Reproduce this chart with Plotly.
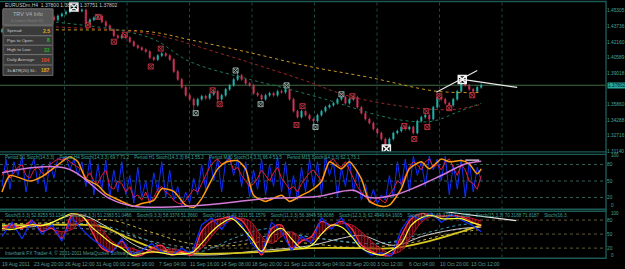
import plotly.graph_objects as go

W, H = 625, 269
FONT = "Liberation Sans"
TEAL = "#4aa39a"
SEP = "#1c5a55"

def yp(px):
    return 1 - px / H

def xp(px):
    return px / W

# ---------------- main panel data (EURUSD H4) ----------------
closes = [1.4339,1.4359,1.4379,1.4369,1.4399,1.4389,1.4419,1.4399,1.4439,1.4419,
          1.4459,1.4439,1.4469,1.4439,1.4479,1.4499,1.4519,1.4549,1.4559,1.4529,
          1.4539,1.4399,1.4439,1.4459,1.4479,1.4419,1.4379,1.4339,1.4279,1.4259,
          1.4279,1.4259,1.4219,1.4179,1.4159,1.4139,1.4119,1.4059,1.4039,1.4079,
          1.4099,1.4079,1.4039,1.3919,1.3839,1.3759,1.3679,1.3639,1.3579,1.3639,
          1.3669,1.3649,1.3689,1.3719,1.3639,1.3679,1.3739,1.3779,1.3839,1.3879,
          1.3839,1.3799,1.3779,1.3699,1.3679,1.3639,1.3679,1.3699,1.3679,1.3719,
          1.3709,1.3739,1.3639,1.3519,1.3459,1.3519,1.3479,1.3439,1.3419,1.3479,
          1.3519,1.3559,1.3579,1.3599,1.3639,1.3659,1.3599,1.3639,1.3659,1.3559,
          1.3499,1.3439,1.3399,1.3339,1.3299,1.3239,1.3179,1.3239,1.3299,1.3319,
          1.3359,1.3339,1.3359,1.3299,1.3419,1.3459,1.3479,1.3439,1.3559,1.3659,
          1.3639,1.3599,1.3579,1.3639,1.3719,1.3799,1.3779,1.3739,1.3719,1.3759,
          1.37802]
opens = [1.4319] + closes[:-1]
highs = [1.4354,1.4374,1.4394,1.4394,1.4414,1.4414,1.4434,1.4434,1.4454,1.4454,
         1.4474,1.4474,1.4484,1.4484,1.4494,1.4514,1.4534,1.4564,1.4589,1.4574,
         1.4554,1.4554,1.4454,1.4474,1.4494,1.4494,1.4434,1.4394,1.4354,1.4294,
         1.4294,1.4294,1.4274,1.4234,1.4194,1.4174,1.4154,1.4134,1.4074,1.4094,
         1.4114,1.4114,1.4094,1.4054,1.3934,1.3854,1.3774,1.3694,1.3654,1.3654,
         1.3684,1.3684,1.3704,1.3734,1.3734,1.3694,1.3754,1.3794,1.3854,1.3929,
         1.3894,1.3854,1.3814,1.3794,1.3714,1.3694,1.3694,1.3714,1.3714,1.3734,
         1.3734,1.3754,1.3754,1.3654,1.3534,1.3534,1.3534,1.3494,1.3454,1.3494,
         1.3534,1.3574,1.3594,1.3614,1.3654,1.3674,1.3674,1.3654,1.3674,1.3674,
         1.3574,1.3514,1.3454,1.3414,1.3354,1.3314,1.3254,1.3254,1.3314,1.3334,
         1.3374,1.3374,1.3374,1.3374,1.3434,1.3474,1.3494,1.3494,1.3574,1.3674,
         1.3674,1.3654,1.3614,1.3654,1.3734,1.3839,1.3814,1.3794,1.3754,1.3774,
         1.3800]
lows = [1.4304,1.4324,1.4344,1.4354,1.4354,1.4374,1.4374,1.4384,1.4384,1.4404,
        1.4404,1.4424,1.4424,1.4424,1.4424,1.4464,1.4484,1.4504,1.4534,1.4514,
        1.4514,1.4369,1.4384,1.4424,1.4444,1.4404,1.4364,1.4324,1.4264,1.4244,
        1.4244,1.4244,1.4204,1.4164,1.4144,1.4124,1.4104,1.4044,1.4024,1.4024,
        1.4064,1.4064,1.4024,1.3904,1.3824,1.3744,1.3664,1.3624,1.3519,1.3564,
        1.3624,1.3634,1.3634,1.3674,1.3624,1.3624,1.3664,1.3724,1.3764,1.3824,
        1.3824,1.3784,1.3764,1.3684,1.3664,1.3624,1.3624,1.3664,1.3664,1.3664,
        1.3694,1.3694,1.3624,1.3504,1.3444,1.3444,1.3464,1.3424,1.3359,1.3404,
        1.3464,1.3504,1.3544,1.3564,1.3584,1.3624,1.3584,1.3584,1.3624,1.3544,
        1.3484,1.3424,1.3384,1.3324,1.3284,1.3224,1.3139,1.3164,1.3224,1.3284,
        1.3304,1.3324,1.3324,1.3284,1.3284,1.3404,1.3444,1.3359,1.3424,1.3544,
        1.3624,1.3584,1.3564,1.3564,1.3624,1.3704,1.3764,1.3724,1.3704,1.3704,
        1.3744]
bars = list(range(len(closes)))
last_price = 1.37802

ma_slow_x = [0, 13, 37, 47, 62, 77, 92, 109, 120]
ma_slow_y = [1.4349, 1.4339, 1.4319, 1.4239, 1.4109, 1.3969, 1.3859, 1.3719, 1.3709]
ma_mid_x = [0, 13, 37, 54, 62, 75, 87, 100, 107, 114, 120]
ma_mid_y = [1.4399, 1.4369, 1.4299, 1.4109, 1.4009, 1.3839, 1.3669, 1.3569, 1.3539, 1.3539, 1.3589]
ma_fast_x = [0, 13, 37, 47, 62, 70, 81, 95, 102, 108, 114, 120]
ma_fast_y = [1.4459, 1.4419, 1.4259, 1.4019, 1.3839, 1.3759, 1.3639, 1.3469, 1.3419, 1.3419, 1.3509, 1.3599]

frac_red_x = [21.5, 24, 28, 30.75, 37.25, 39.75, 52.75, 54.5, 73.75, 75.25, 87.75, 100.75, 103.25, 106.25, 106.5, 109.5, 112, 117.75]
frac_red_y = [1.4389, 1.4469, 1.4219, 1.4289, 1.3969, 1.4149, 1.3729, 1.3589, 1.3379, 1.3569, 1.3669, 1.3369, 1.3239, 1.3519, 1.3359, 1.3669, 1.3549, 1.3679]
frac_grey_x = [48.5, 58.5, 64.75, 71.25, 78.5, 85]
frac_grey_y = [1.3499, 1.3929, 1.3589, 1.3779, 1.3359, 1.3689]
swing_x = [18, 96.25, 115.25]
swing_y = [1.4569, 1.3139, 1.3839]
trend1_x = [108.75, 119]
trend1_y = [1.3709, 1.3929]
trend2_x = [115.25, 129]
trend2_y = [1.3839, 1.3759]

price_ticks = [1.45305, 1.43736, 1.42160, 1.40589, 1.39018, 1.35860, 1.34288, 1.32716, 1.31140]

# ---------------- panel 2: multi-timeframe stochastic ----------------
st_blue = [40,90,35,85,60,95,30,70,90,45,80,
           30,85,55,92,88,95,70,90,60,85,
           40,90,25,80,35,88,20,70,30,85,
           25,60,10,75,20,50,8,65,30,85,
           20,70,15,40,5,30,10,55,25,80,
           35,95,50,90,30,85,95,60,90,40,
           85,20,70,35,90,25,80,40,95,30,
           85,20,60,15,75,30,90,40,85,25,
           95,60,85,20,75,40,90,30,70,15,
           45,10,35,8,25,15,60,20,85,40,
           90,30,95,60,85,40,95,70,90,50,
           95,25,80,35,90,20,85,30,75,50,65]
st_red = [60,70,55,65,75,80,60,55,70,75,65,
          60,80,85,90,88,92,85,80,75,70,
          55,65,50,45,60,70,40,35,50,45,
          30,40,20,25,15,30,10,20,35,40,
          30,25,15,10,8,15,25,35,30,45,
          60,75,85,90,80,85,90,70,75,60,
          50,40,45,55,70,60,50,65,75,55,
          45,35,40,30,45,55,65,70,60,50,
          70,85,90,80,75,85,70,55,40,30,
          20,15,10,20,15,10,25,35,50,45,
          60,75,85,80,70,85,90,75,80,70,
          85,90,75,60,80,70,50,45,35,60,75]
st_orange_x = [0,2,7,10,16,17,19,21,24,26,30,33,35,38,40,43,46,48,50,54,56,59,61,63,66,70,72,75,77,80,
               82,85,87,90,92,95,97,100,102,105,107,110,112,115,117,119,120]
st_orange_y = [30,60,50,58,90,94,85,54,42,27,13,4,9,15,36,31,6,2,18,72,84,87,72,24,13,24,13,24,31,49,
               85,72,85,54,13,4,6,36,72,85,72,90,85,87,81,63,72]
st_violet_x = [0, 16, 27, 33, 50, 66, 79, 85, 88, 92, 98, 104, 110, 116, 120]
st_violet_y = [65, 73, 18, 4, 6, 18, 22, 31, 33, 20, 24, 40, 60, 81, 86]
st_d1_x = [116, 119.5]
st_d1_y = [88, 88]

# ---------------- panel 3: stochastic fan ----------------
p3_x = [k * 2.5 for k in range(49)]
s3_main = [62,70,62,79,56,62,41,90,90,56, 20,13,35,5,5,20,26,5,13,5,
           56,77,83,87,79,47,5,62,69,20, 35,45,77,69,77,62,26,13,5,5,
           47,83,94,90,87,90,87,77,67]
s3_signal = [60,64,66,68,70,62,55,60,78,80, 60,35,22,20,12,10,15,18,14,10,
             20,45,68,80,84,75,45,30,45,55, 40,35,50,65,72,70,55,35,18,8,
             15,45,75,88,90,88,88,84,78]
s3_blue = [45,75,40,80,50,70,35,85,60,40, 25,10,40,8,15,30,12,5,20,8,
           70,85,60,90,70,30,8,75,55,15, 45,30,85,60,85,50,20,5,10,3,
           60,90,80,95,75,92,80,70,55]
s3_yellow = [62,60,65,70,68,75,85,94,88,65, 47,30,20,5,8,12,10,6,8,10,
             30,55,73,83,65,40,13,50,62,40, 20,26,50,69,65,45,20,10,5,15,
             30,69,85,90,83,83,83,75,69]
slow_white_x = [0,10,19,27,35,50,65,77,85,90,98,106,115,120]
slow_white_y = [65,68,92,62,20,5,15,25,41,47,26,47,62,65]
slow_cyan_x = [0,15,25,35,42,50,58,67,75,85,95,105,115,120]
slow_cyan_y = [70,72,69,41,20,13,41,62,47,35,30,50,70,72]
slow_grey_x = [0,20,30,40,50,60,70,80,90,100,110,120]
slow_grey_y = [58,62,50,30,20,35,50,40,30,35,55,65]
slow_ydot_x = [0,15,27,37,47,57,67,77,87,100,112,120]
slow_ydot_y = [72,75,80,55,30,25,35,30,22,28,50,60]
slow_ythick_x = [0,15,25,32,40,50,65,77,90,98,107,115,120]
slow_ythick_y = [68,70,66,40,15,8,12,20,20,20,35,55,69]
trend3_x = [109, 128.75]
trend3_y = [100, 79]

time_labels = ["19 Aug 2011", "23 Aug 20:00", "26 Aug 12:00", "31 Aug 00:00", "2 Sep 16:00",
               "7 Sep 04:00", "11 Sep 16:00", "14 Sep 08:00", "18 Sep 20:00", "21 Sep 12:00",
               "26 Sep 04:00", "28 Sep 20:00", "3 Oct 12:00", "6 Oct 04:00", "10 Oct 20:00",
               "13 Oct 12:00"]

info_rows = [("Spread:", "2.5", "#e8a818"), ("Pips to Open:", "8", "#22c022"),
             ("High to Low:", "33", "#22b022"), ("Daily Average:", "164", "#e04a20"),
             ("3x ATR(20) SL:", "187", "#e8a818")]

title2 = ("Period D1 Stoch(14,3,3)    Period H4 Stoch(14,3,3) 69.7 71.2    Period H1 Stoch(14,3,3) 84.1 55.2    "
          "Period M30 Stoch(14,3,3) 66.4 51.5    Period M15 Stoch(14,3,3) 62.1 73.1")
title3 = ("Stoch(5,3,3) 52.8253 53.1340    Stoch(8,3,3) 51.2383 51.0466    Stoch(9,3,3) 58.3376 51.1660    "
          "Stoch(10,3,3) 49.1511 51.1579    Stoch(11,3,3) 56.3849 58.8088    Stoch(12,3,3) 62.4949 64.1605    "
          "Stoch(13,3,3) 69.3744 71.2692    Stoch(15,3,3) 70.3188 71.8187    Stoch(16,3,")

# ---------------- figure ----------------
fig = go.Figure()

# main panel
for xs, ys, col in [(ma_slow_x, ma_slow_y, "#c89a1e"), (ma_mid_x, ma_mid_y, "#a02828"),
                    (ma_fast_x, ma_fast_y, "#1f7a5a")]:
    fig.add_trace(go.Scatter(x=xs, y=ys, mode="lines", xaxis="x", yaxis="y",
                             line=dict(color=col, width=1, dash="dot", shape="spline"),
                             hoverinfo="skip"))

fig.add_trace(go.Candlestick(x=bars, open=opens, high=highs, low=lows, close=closes,
                             xaxis="x", yaxis="y", whiskerwidth=0,
                             increasing=dict(line=dict(color="#22b6ae", width=0.7), fillcolor="#22b6ae"),
                             decreasing=dict(line=dict(color="#d2335a", width=0.7), fillcolor="#d2335a"),
                             hoverinfo="skip"))

fig.add_trace(go.Scatter(x=frac_red_x, y=frac_red_y, mode="markers", xaxis="x", yaxis="y",
                         marker=dict(symbol="square-x-open", size=5, color="#b8303e", line=dict(width=1))))
fig.add_trace(go.Scatter(x=frac_grey_x, y=frac_grey_y, mode="markers", xaxis="x", yaxis="y",
                         marker=dict(symbol="square-x-open", size=5, color="#8fa8a4", line=dict(width=1))))
for xs, ys in [(trend1_x, trend1_y), (trend2_x, trend2_y)]:
    fig.add_trace(go.Scatter(x=xs, y=ys, mode="lines", xaxis="x", yaxis="y",
                             line=dict(color="#e8e8e8", width=1.2)))
fig.add_trace(go.Scatter(x=swing_x, y=swing_y, mode="markers", xaxis="x", yaxis="y",
                         marker=dict(symbol="square-x-open", size=8, color="#f0f0f0", line=dict(width=1.5))))

# panel 2
fig.add_trace(go.Scatter(x=bars, y=st_blue, mode="lines", xaxis="x", yaxis="y2",
                         line=dict(color="#1030ff", width=1)))
fig.add_trace(go.Scatter(x=bars, y=st_red, mode="lines", xaxis="x", yaxis="y2",
                         line=dict(color="#e0203c", width=1)))
fig.add_trace(go.Scatter(x=st_orange_x, y=st_orange_y, mode="lines", xaxis="x", yaxis="y2",
                         line=dict(color="#ff9a10", width=1.5, shape="spline", smoothing=0.6)))
fig.add_trace(go.Scatter(x=st_violet_x, y=st_violet_y, mode="lines", xaxis="x", yaxis="y2",
                         line=dict(color="#d27ad8", width=1.5, shape="spline")))
fig.add_trace(go.Scatter(x=st_d1_x, y=st_d1_y, mode="lines", xaxis="x", yaxis="y2",
                         line=dict(color="#f0d8f0", width=1.2)))

# panel 3
for xs, ys, col, dash, wd in [(slow_grey_x, slow_grey_y, "#8a8a8a", "dot", 1),
                              (slow_cyan_x, slow_cyan_y, "#3aa0b0", "dot", 1),
                              (slow_ydot_x, slow_ydot_y, "#c8b040", "dot", 1),
                              (slow_white_x, slow_white_y, "#c8c8c8", "solid", 1),
                              (slow_ythick_x, slow_ythick_y, "#d8c820", "solid", 1.8)]:
    fig.add_trace(go.Scatter(x=xs, y=ys, mode="lines", xaxis="x", yaxis="y3",
                             line=dict(color=col, width=wd, dash=dash, shape="spline")))
fig.add_trace(go.Scatter(x=p3_x, y=s3_signal, mode="lines", xaxis="x", yaxis="y3",
                         line=dict(color="#c01830", width=1, shape="spline")))
fig.add_trace(go.Scatter(x=p3_x, y=s3_main, mode="lines", xaxis="x", yaxis="y3", fill="tonexty",
                         fillcolor="rgba(150,10,25,0.55)",
                         fillpattern=dict(shape="|", fgcolor="#e02030", bgcolor="rgba(90,0,10,0.5)",
                                          size=3, solidity=0.45),
                         line=dict(color="#ff3048", width=1.3, shape="spline")))
fig.add_trace(go.Scatter(x=p3_x, y=s3_blue, mode="lines", xaxis="x", yaxis="y3",
                         line=dict(color="#1030ff", width=1.2)))
fig.add_trace(go.Scatter(x=p3_x, y=s3_yellow, mode="lines", xaxis="x", yaxis="y3",
                         line=dict(color="#ffff30", width=1.2, shape="spline")))
fig.add_trace(go.Scatter(x=trend3_x, y=trend3_y, mode="lines", xaxis="x", yaxis="y3",
                         line=dict(color="#e8e8e8", width=1.2)))

# ---------------- shapes ----------------
shapes = []
XR = 607 / W
for k in range(1, 9):
    gx = 15.65 * k
    shapes.append(dict(type="line", xref="x", yref="paper", x0=gx, x1=gx, y0=yp(259.5), y1=yp(2),
                       line=dict(color="#1f4744", width=1, dash="dot"), layer="below"))
for lv in [20, 50, 80]:
    shapes.append(dict(type="line", xref="paper", yref="y2", x0=0, x1=XR, y0=lv, y1=lv,
                       line=dict(color="#355f5a", width=1, dash="dot"), layer="below"))
    shapes.append(dict(type="line", xref="paper", yref="y3", x0=0, x1=XR, y0=lv, y1=lv,
                       line=dict(color="#5e5a34", width=1, dash="dot"), layer="below"))
shapes.append(dict(type="line", xref="paper", yref="y", x0=0, x1=XR, y0=last_price, y1=last_price,
                   line=dict(color="#3d6b45", width=1), layer="below"))
for ypx in [1.5, 153, 155.5, 210.8, 212.8, 260.2]:
    shapes.append(dict(type="line", xref="paper", yref="paper", x0=0, x1=XR + 0.001, y0=yp(ypx), y1=yp(ypx),
                       line=dict(color=SEP, width=1.4)))
shapes.append(dict(type="line", xref="paper", yref="paper", x0=XR, x1=XR, y0=yp(260.2), y1=yp(1.5),
                   line=dict(color=SEP, width=1.4)))
shapes.append(dict(type="rect", xref="paper", yref="paper", x0=xp(3), x1=xp(53), y0=yp(76), y1=yp(9),
                   fillcolor="#3a3a3a", line=dict(color="#6c6c6c", width=1)))
shapes.append(dict(type="rect", xref="paper", yref="paper", x0=xp(3), x1=xp(53), y0=yp(25), y1=yp(9),
                   fillcolor="#575757", line=dict(color="#6c6c6c", width=1)))
row_tops = [26, 36, 45.5, 55, 65.5]
for rt in row_tops:
    shapes.append(dict(type="line", xref="paper", yref="paper", x0=xp(4), x1=xp(52), y0=yp(rt), y1=yp(rt),
                       line=dict(color="#777777", width=1)))

# ---------------- annotations ----------------
ann = []
def txt(x, y, s, size=5, color=TEAL, xanchor="left", bg=None):
    d = dict(xref="paper", yref="paper", x=x, y=y, text=s, showarrow=False, xanchor=xanchor,
             yanchor="middle", font=dict(family=FONT, size=size, color=color))
    if bg:
        d["bgcolor"] = bg
        d["borderpad"] = 0
    ann.append(d)

txt(xp(3), yp(5), "EURUSDm,H4  1.37800 1.38005 1.37751 1.37802", size=5, color="#c8c8c8")
txt(xp(28), yp(14), "TRV V4 Info", size=5.5, color="#b4b4b4", xanchor="center")
txt(xp(28), yp(20.5), "4 Colors Stoch V2", size=4, color="#808080", xanchor="center")
row_centers = [31, 40.7, 50.3, 60.2, 70.8]
for (lab, val, col), yc in zip(info_rows, row_centers):
    txt(xp(5.5), yp(yc), lab, size=4.4, color="#c8c8c8")
    txt(xp(52), yp(yc), "<b>" + val + "</b>", size=5, color=col, xanchor="right")

txt(xp(3), yp(159), title2, size=4.6, color="#3fa395")
txt(xp(3), yp(216.8), title3, size=4.6, color="#3fa395")
txt(xp(3), yp(255), "Interbank FX Trader 4, © 2001-2011 MetaQuotes Software Corp.", size=4.8, color="#4f9a92")

for k, lab in enumerate(time_labels):
    ann.append(dict(xref="x", yref="paper", x=k * 7.825 - 0.4, y=yp(265.5), text=lab, showarrow=False,
                    xanchor="left", yanchor="middle", font=dict(family=FONT, size=5, color="#5a9c95")))

for ypx, s in [(156.7, "100"), (207.5, "0"), (215.5, "100"), (257.3, "0")]:
    txt(xp(609.5), yp(ypx), s, size=4.6, color=TEAL)

ann.append(dict(xref="paper", yref="y", x=xp(608), y=last_price, text="1.37802", showarrow=False,
                xanchor="left", yanchor="middle", bgcolor="#2aa89c", borderpad=0,
                font=dict(family=FONT, size=4.8, color="#02201e")))

axis_common = dict(side="right", showgrid=False, zeroline=False, showline=False, ticks="",
                   tickfont=dict(family=FONT, size=4.8, color=TEAL), fixedrange=True, anchor="x")

fig.update_layout(
    width=W, height=H, margin=dict(l=0, r=0, t=0, b=0),
    paper_bgcolor="#000000", plot_bgcolor="#000000", showlegend=False,
    boxgap=0.55,
    xaxis=dict(domain=[0, XR], range=[-0.5, 151.25], visible=False, rangeslider=dict(visible=False),
               fixedrange=True),
    yaxis=dict(domain=[yp(153), yp(2)], range=[1.3109, 1.4619], tickvals=price_ticks,
               ticktext=["%.5f" % v for v in price_ticks], **axis_common),
    yaxis2=dict(domain=[yp(210.1), yp(154.6)], range=[0, 100], tickvals=[20, 50, 80], **axis_common),
    yaxis3=dict(domain=[yp(259.4), yp(212.3)], range=[0, 100], tickvals=[20, 50, 80], **axis_common),
    shapes=shapes, annotations=ann,
)

fig.write_html("out.html")
